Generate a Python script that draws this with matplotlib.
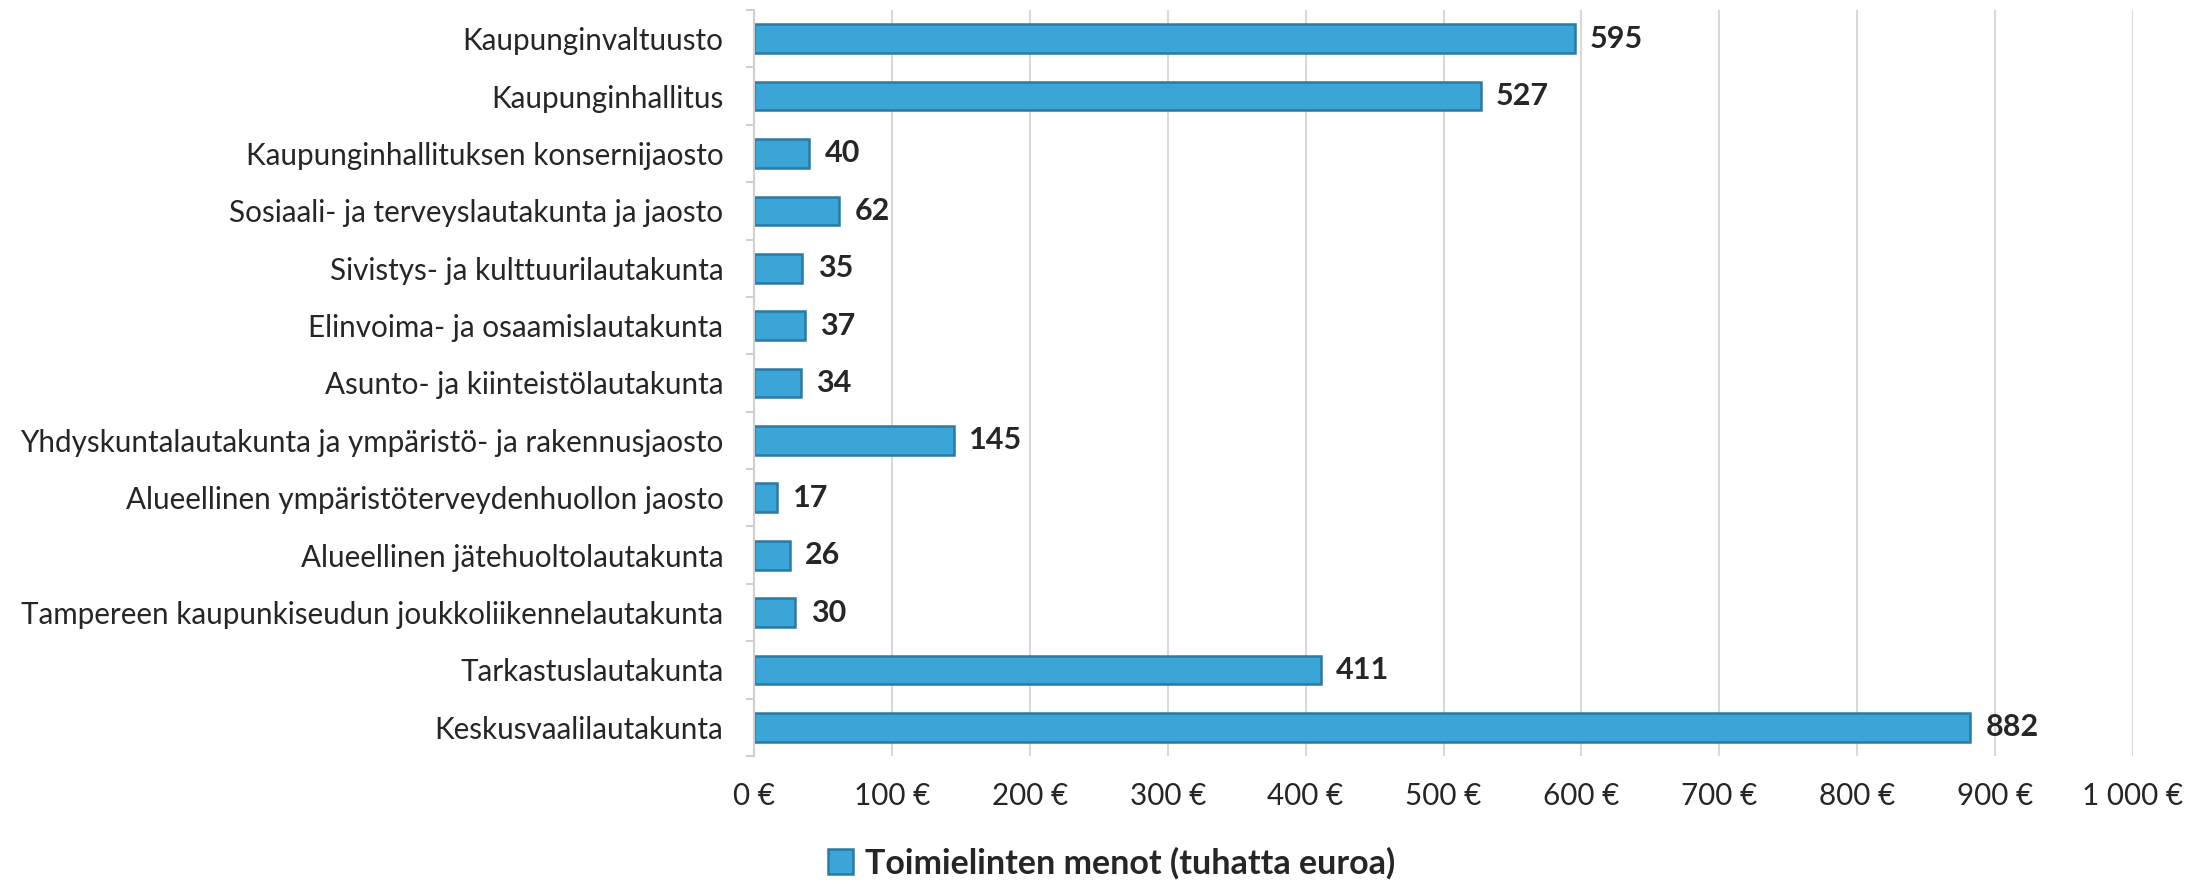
import matplotlib
matplotlib.use("Agg")
import matplotlib.pyplot as plt
import numpy as np

categories = [
    "Kaupunginvaltuusto",
    "Kaupunginhallitus",
    "Kaupunginhallituksen konsernijaosto",
    "Sosiaali- ja terveyslautakunta ja jaosto",
    "Sivistys- ja kulttuurilautakunta",
    "Elinvoima- ja osaamislautakunta",
    "Asunto- ja kiinteistölautakunta",
    "Yhdyskuntalautakunta ja ympäristö- ja rakennusjaosto",
    "Alueellinen ympäristöterveydenhuollon jaosto",
    "Alueellinen jätehuoltolautakunta",
    "Tampereen kaupunkiseudun joukkoliikennelautakunta",
    "Tarkastuslautakunta",
    "Keskusvaalilautakunta",
]
values = [595, 527, 40, 62, 35, 37, 34, 145, 17, 26, 30, 411, 882]
x_ticks = [0, 100, 200, 300, 400, 500, 600, 700, 800, 900, 1000]
x_tick_labels = ["0 €", "100 €", "200 €", "300 €", "400 €", "500 €", "600 €",
                 "700 €", "800 €", "900 €", "1 000 €"]
series_name = "Toimielinten menot (tuhatta euroa)"

plt.rcParams['font.family'] = ['Lato', 'DejaVu Sans']
TXT = "#262626"
FS = 21.3

W, H = 2208, 881
fig = plt.figure(figsize=(W / 100, H / 100), dpi=100)
ax = fig.add_axes([754 / W, 1 - 756 / H, (2133 - 754) / W, (756 - 10) / H])

y = np.arange(len(categories))
bars = ax.barh(y, values, height=0.5, color="#3AA5D6", edgecolor="#2A7AA2",
               linewidth=1.8, label=series_name, zorder=3)

for yi, v in zip(y, values):
    ax.annotate(f"{v}", xy=(v, yi), xytext=(11, 0), textcoords="offset points",
                ha="left", va="center", fontsize=22, fontweight="bold", color=TXT)

ax.set_xlim(0, 1000)
ax.set_ylim(len(categories) - 0.5, -0.5)
ax.set_xticks(x_ticks)
ax.set_xticklabels(x_tick_labels)
ax.set_yticks(y)
ax.set_yticklabels(categories)
ax.set_yticks(np.arange(-0.5, len(categories), 1.0), minor=True)

ax.tick_params(axis="x", length=0, pad=19, labelsize=FS, labelcolor=TXT)
ax.tick_params(axis="y", which="major", length=0, pad=22, labelsize=FS, labelcolor=TXT)
ax.tick_params(axis="y", which="minor", length=6, width=1.5, color="#D0D0D0")

ax.grid(axis="x", color="#D9D9D9", linewidth=1.5, zorder=0)
ax.set_axisbelow(True)
for s in ["top", "right", "bottom"]:
    ax.spines[s].set_visible(False)
ax.spines["left"].set_color("#D0D0D0")
ax.spines["left"].set_linewidth(1.5)
ax.spines["left"].set_zorder(4)

leg = fig.legend(handles=[bars], labels=[series_name], loc="center",
                 bbox_to_anchor=(0.5035, 1 - 863 / H), frameon=False,
                 prop={"size": 24.5, "weight": "bold"},
                 handlelength=0.75, handleheight=0.75, handletextpad=0.35)
for t in leg.get_texts():
    t.set_color(TXT)

fig.savefig("out.png", dpi=100)
